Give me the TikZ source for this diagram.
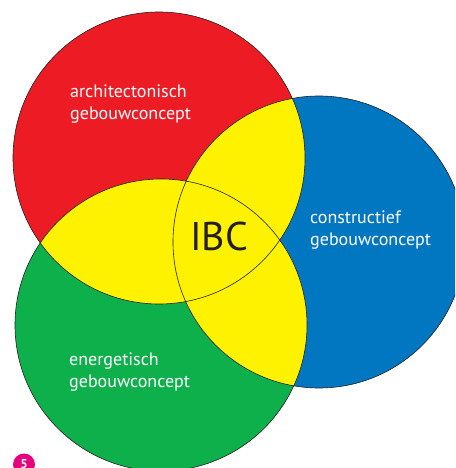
\documentclass[tikz,border=0pt]{standalone}
\usepackage{fontspec}
\setmainfont{PT Sans}
\definecolor{ibcred}{HTML}{ED1C24}
\definecolor{ibcblue}{HTML}{0077C0}
\definecolor{ibcgreen}{HTML}{0DB04B}
\definecolor{ibcyellow}{HTML}{FFF200}
\definecolor{ibcpink}{HTML}{E5007E}
\definecolor{ibcink}{HTML}{231F20}
\begin{document}
\begin{tikzpicture}[x=1pt,y=-1pt]
       \tikzstyle{rim}=[draw=ibcink, line width=0.6pt]
       \tikzstyle{conceptlabel}=[anchor=north west, inner sep=0pt, align=left, text=white, font=\fontsize{18}{21.5}\selectfont]
       \useasboundingbox (0,0) rectangle (455,468);
       \clip (0,0) rectangle (455,468);
       \coordinate (arch) at (159,158);
       \coordinate (constr) at (319,242);
       \coordinate (energ) at (161,325);
       \fill[ibcred] (arch) circle (146pt);
       \fill[ibcblue] (constr) circle (146pt);
       \fill[ibcgreen] (energ) circle (146pt);
       % overlaps
       \begin{scope}
        \clip (arch) circle (146pt);
        \fill[ibcyellow] (constr) circle (146pt);
        \fill[ibcyellow] (energ) circle (146pt);
       \end{scope}
       \begin{scope}
        \clip (energ) circle (146pt);
        \fill[ibcyellow] (constr) circle (146pt);
       \end{scope}
       \foreach \c in {arch,constr,energ}
        \draw[rim] (\c) circle (146pt);
       \node[conceptlabel] (archlabel) at (70,85) {architectonisch\\gebouwconcept};
       \node[conceptlabel] (constrlabel) at (310,211) {constructief\\gebouwconcept};
       \node[conceptlabel] (energlabel) at (69,353) {energetisch\\gebouwconcept};
       \node[anchor=base, text=ibcink, font=\fontsize{40}{40}\selectfont] (ibc) at (219,250) {IBC};
       \node[circle, fill=ibcpink, minimum size=22pt, inner sep=0pt, text=white, font=\bfseries\fontsize{13}{13}\selectfont] (page) at (24,464.5) {5};
\end{tikzpicture}
\end{document}
